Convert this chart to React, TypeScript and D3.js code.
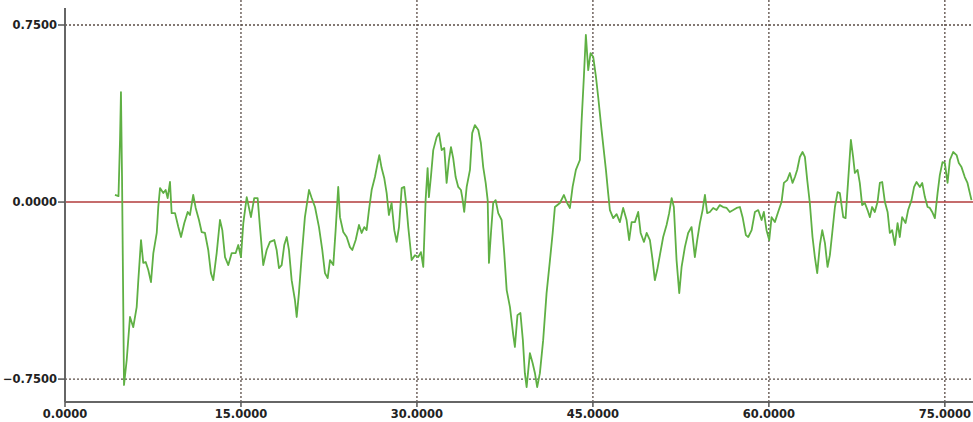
import React, { useEffect, useRef } from 'react';
import * as d3 from 'd3';

// time / amplitude samples
const signal: [number, number][] = [
  [4.26, 0.030], [4.56, 0.025], [4.69, 0.263], [4.77, 0.466], [4.86, 0.110], [5.03, -0.775],
  [5.26, -0.669], [5.54, -0.487], [5.82, -0.530], [6.11, -0.445], [6.25, -0.331], [6.48, -0.161],
  [6.67, -0.258], [6.88, -0.254], [7.10, -0.288], [7.33, -0.339], [7.53, -0.216], [7.82, -0.131],
  [7.95, -0.021], [8.10, 0.059], [8.38, 0.038], [8.58, 0.051], [8.75, 0.017], [8.95, 0.085],
  [9.09, -0.047], [9.38, -0.047], [9.66, -0.106], [9.89, -0.148], [10.17, -0.089], [10.46, -0.042],
  [10.65, -0.055], [10.93, 0.030], [11.14, -0.025], [11.42, -0.076], [11.65, -0.127], [11.93, -0.131],
  [12.21, -0.203], [12.44, -0.301], [12.64, -0.331], [12.93, -0.216], [13.21, -0.076], [13.41, -0.119],
  [13.64, -0.233], [13.92, -0.267], [14.21, -0.216], [14.55, -0.216], [14.77, -0.182], [15.00, -0.233],
  [15.20, -0.089], [15.49, 0.021], [15.85, -0.064], [16.13, 0.017], [16.42, 0.017], [16.62, -0.106],
  [16.90, -0.267], [17.19, -0.203], [17.47, -0.169], [17.84, -0.161], [18.04, -0.203], [18.24, -0.280],
  [18.47, -0.267], [18.69, -0.182], [18.90, -0.148], [19.09, -0.203], [19.32, -0.331], [19.60, -0.415],
  [19.75, -0.487], [19.94, -0.386], [20.17, -0.233], [20.45, -0.064], [20.80, 0.051], [21.03, 0.017],
  [21.31, -0.021], [21.65, -0.106], [21.93, -0.203], [22.16, -0.301], [22.39, -0.322], [22.59, -0.246],
  [22.87, -0.267], [23.07, -0.119], [23.29, 0.064], [23.44, -0.064], [23.72, -0.127], [24.01, -0.148],
  [24.29, -0.191], [24.49, -0.203], [24.78, -0.161], [25.06, -0.097], [25.29, -0.131], [25.51, -0.106],
  [25.71, -0.119], [25.91, -0.034], [26.14, 0.051], [26.42, 0.106], [26.65, 0.165], [26.79, 0.199],
  [26.99, 0.144], [27.21, 0.102], [27.42, 0.038], [27.61, -0.055], [27.84, -0.004], [28.07, -0.119],
  [28.27, -0.169], [28.47, -0.106], [28.70, 0.059], [28.92, 0.064], [29.12, -0.025], [29.26, -0.106],
  [29.55, -0.246], [29.83, -0.225], [30.11, -0.233], [30.34, -0.212], [30.54, -0.275], [30.74, 0.008],
  [30.91, 0.144], [31.02, 0.021], [31.19, 0.106], [31.39, 0.220], [31.68, 0.275], [31.88, 0.292],
  [32.11, 0.220], [32.33, 0.229], [32.53, 0.081], [32.73, 0.178], [32.90, 0.233], [33.09, 0.186],
  [33.30, 0.106], [33.52, 0.064], [33.75, 0.051], [33.86, 0.021], [34.03, -0.042], [34.24, 0.064],
  [34.52, 0.136], [34.71, 0.292], [34.94, 0.326], [35.23, 0.305], [35.45, 0.250], [35.65, 0.148],
  [35.86, 0.081], [36.03, 0.008], [36.14, -0.258], [36.31, -0.131], [36.50, -0.004], [36.71, 0.008],
  [36.93, -0.047], [37.22, -0.076], [37.44, -0.216], [37.65, -0.373], [37.93, -0.445], [38.21, -0.564],
  [38.35, -0.614], [38.57, -0.479], [38.82, -0.470], [39.03, -0.585], [39.20, -0.725], [39.35, -0.784],
  [39.63, -0.640], [39.86, -0.682], [40.06, -0.725], [40.25, -0.784], [40.48, -0.725], [40.76, -0.585],
  [41.05, -0.386], [41.34, -0.246], [41.57, -0.131], [41.76, -0.021], [42.19, -0.004], [42.53, 0.030],
  [42.76, 0.000], [43.04, -0.025], [43.27, 0.064], [43.55, 0.136], [43.89, 0.178], [44.04, 0.347],
  [44.23, 0.530], [44.40, 0.708], [44.60, 0.559], [44.80, 0.631], [45.03, 0.614], [45.26, 0.530],
  [45.45, 0.445], [45.74, 0.305], [46.11, 0.136], [46.30, 0.038], [46.45, -0.034], [46.73, -0.068],
  [47.02, -0.051], [47.30, -0.085], [47.58, -0.025], [47.87, -0.076], [48.09, -0.161], [48.30, -0.085],
  [48.58, -0.085], [48.86, -0.042], [49.07, -0.131], [49.35, -0.169], [49.58, -0.131], [49.86, -0.161],
  [50.09, -0.246], [50.28, -0.331], [50.48, -0.288], [50.71, -0.225], [50.99, -0.148], [51.28, -0.097],
  [51.50, -0.047], [51.71, 0.017], [51.90, -0.021], [52.13, -0.246], [52.36, -0.386], [52.56, -0.275],
  [52.84, -0.191], [53.12, -0.131], [53.41, -0.106], [53.69, -0.233], [53.89, -0.161], [54.12, -0.089],
  [54.35, -0.034], [54.55, 0.030], [54.74, -0.047], [54.97, -0.042], [55.25, -0.025], [55.54, -0.034],
  [55.82, -0.013], [56.10, -0.021], [56.40, -0.025], [56.67, -0.042], [56.96, -0.034], [57.25, -0.025],
  [57.53, -0.021], [57.76, -0.064], [58.04, -0.140], [58.24, -0.148], [58.53, -0.119], [58.81, -0.042],
  [59.09, -0.034], [59.38, -0.076], [59.57, -0.042], [59.80, -0.119], [60.03, -0.161], [60.23, -0.064],
  [60.51, -0.085], [60.79, -0.042], [61.08, 0.000], [61.28, 0.081], [61.56, 0.093], [61.79, 0.123],
  [62.02, 0.081], [62.22, 0.106], [62.41, 0.136], [62.64, 0.191], [62.87, 0.212], [63.07, 0.191],
  [63.27, 0.093], [63.49, -0.004], [63.72, -0.148], [63.92, -0.233], [64.12, -0.301], [64.35, -0.182],
  [64.55, -0.119], [64.78, -0.174], [65.00, -0.275], [65.20, -0.225], [65.40, -0.131], [65.63, -0.021],
  [65.86, 0.042], [66.05, 0.038], [66.34, -0.064], [66.54, -0.068], [66.76, 0.093], [66.99, 0.263],
  [67.18, 0.191], [67.33, 0.123], [67.56, 0.136], [67.75, 0.081], [67.95, -0.013], [68.18, -0.004],
  [68.41, -0.034], [68.61, -0.064], [68.80, -0.021], [69.03, -0.042], [69.26, 0.000], [69.46, 0.081],
  [69.66, 0.085], [69.89, 0.000], [70.12, -0.042], [70.31, -0.131], [70.51, -0.119], [70.74, -0.182],
  [70.97, -0.089], [71.16, -0.148], [71.36, -0.064], [71.65, -0.089], [71.87, -0.034], [72.16, 0.008],
  [72.38, 0.064], [72.59, 0.085], [72.87, 0.064], [73.07, 0.081], [73.30, 0.021], [73.53, -0.021],
  [73.72, -0.025], [73.92, -0.042], [74.15, -0.068], [74.38, 0.038], [74.57, 0.114], [74.80, 0.169],
  [75.00, 0.165], [75.23, 0.081], [75.43, 0.178], [75.71, 0.212], [76.00, 0.199], [76.19, 0.165],
  [76.42, 0.148], [76.70, 0.106], [76.93, 0.081], [77.13, 0.038], [77.27, 0.008],
];

const xTicks = [0, 15, 30, 45, 60, 75];
const yTicks = [-0.75, 0, 0.75];
const xDomain = [0, 77.4];
const yDomain = [-0.847, 0.822];

const App = () => {
  const chartRef = useRef<SVGSVGElement>(null);

  useEffect(() => {
    const width = 973;
    const height = 422;
    const left = 65;
    const top = 8;
    const bottom = 402;

    const x = d3.scaleLinear().domain(xDomain).range([left, width]);
    const y = d3.scaleLinear().domain(yDomain).range([bottom, top]);

    const svg = d3.select(chartRef.current)
      .attr('width', width)
      .attr('height', height);
    svg.selectAll('*').remove();

    const gridColor = '#5a4c46';

    // horizontal dotted grid
    svg.selectAll('line.hgrid')
      .data(yTicks.filter(d => d !== 0))
      .enter()
      .append('line')
      .attr('class', 'hgrid')
      .attr('x1', left)
      .attr('x2', width)
      .attr('y1', d => y(d))
      .attr('y2', d => y(d))
      .attr('stroke', gridColor)
      .attr('stroke-width', 1.3)
      .attr('stroke-dasharray', '2,2');

    // vertical dotted grid
    svg.selectAll('line.vgrid')
      .data(xTicks.filter(d => d !== 0))
      .enter()
      .append('line')
      .attr('class', 'vgrid')
      .attr('x1', d => x(d))
      .attr('x2', d => x(d))
      .attr('y1', 0)
      .attr('y2', bottom)
      .attr('stroke', gridColor)
      .attr('stroke-width', 1.3)
      .attr('stroke-dasharray', '2,2');

    // zero reference line
    svg.append('line')
      .attr('x1', left)
      .attr('x2', width)
      .attr('y1', y(0))
      .attr('y2', y(0))
      .attr('stroke', '#b23b3b')
      .attr('stroke-width', 1.5);

    const line = d3.line<[number, number]>()
      .x(d => x(d[0]))
      .y(d => y(d[1]));

    svg.append('path')
      .datum(signal)
      .attr('d', line)
      .attr('fill', 'none')
      .attr('stroke', '#5fb044')
      .attr('stroke-width', 1.8)
      .attr('stroke-linejoin', 'round');

    // axes
    svg.append('line')
      .attr('x1', left).attr('x2', left)
      .attr('y1', top).attr('y2', bottom)
      .attr('stroke', '#666').attr('stroke-width', 2);
    svg.append('line')
      .attr('x1', left).attr('x2', width)
      .attr('y1', bottom).attr('y2', bottom)
      .attr('stroke', '#666').attr('stroke-width', 2);

    svg.selectAll('line.xtick')
      .data(xTicks)
      .enter()
      .append('line')
      .attr('class', 'xtick')
      .attr('x1', d => x(d)).attr('x2', d => x(d))
      .attr('y1', bottom).attr('y2', bottom + 5)
      .attr('stroke', '#555').attr('stroke-width', 1.5);

    svg.selectAll('line.ytick')
      .data(yTicks)
      .enter()
      .append('line')
      .attr('class', 'ytick')
      .attr('x1', left - 7).attr('x2', left)
      .attr('y1', d => y(d)).attr('y2', d => y(d))
      .attr('stroke', '#555').attr('stroke-width', 1.5);

    const fmt = d3.format('.4f');

    svg.selectAll('text.xlabel')
      .data(xTicks)
      .enter()
      .append('text')
      .attr('class', 'xlabel')
      .attr('x', d => x(d))
      .attr('y', 418)
      .attr('text-anchor', 'middle')
      .style('font-family', 'DejaVu Sans')
      .style('font-weight', 'bold')
      .style('font-size', '11.5px')
      .style('fill', '#222')
      .text(d => fmt(d));

    svg.selectAll('text.ylabel')
      .data(yTicks)
      .enter()
      .append('text')
      .attr('class', 'ylabel')
      .attr('x', left - 8)
      .attr('y', d => y(d))
      .attr('dy', '0.36em')
      .attr('text-anchor', 'end')
      .style('font-family', 'DejaVu Sans')
      .style('font-weight', 'bold')
      .style('font-size', '11.5px')
      .style('fill', '#222')
      .text(d => fmt(d));
  }, []);

  return (
    <div style={{ width: 973, height: 422, background: '#fff' }}>
      <style>{`body { margin: 0; }`}</style>
      <svg ref={chartRef} style={{ display: 'block' }}></svg>
    </div>
  );
};

export default App;
